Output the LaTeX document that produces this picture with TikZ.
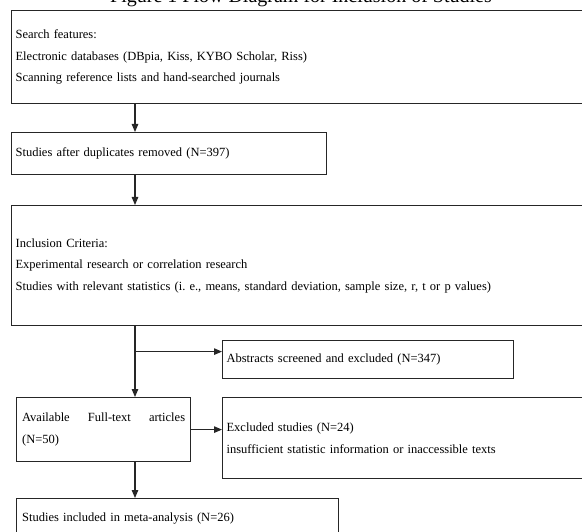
\documentclass[tikz,border=0pt]{standalone}
\usepackage{fontspec}
\setmainfont{Liberation Serif}
\usetikzlibrary{positioning,arrows.meta}

\newcommand\boxfont{\fontsize{12.5}{21.5}\selectfont\frenchspacing
  \spaceskip=5.6pt plus 1pt minus 0.5pt\relax}

\begin{document}
\begin{tikzpicture}[
    x=1pt, y=-1pt,
    box/.style={draw=black!85, line width=1.2pt, anchor=north west, align=left,
      inner xsep=4pt, font=\boxfont},
    arr/.style={-{Triangle[length=8pt,width=6.5pt]}, line width=1.2pt, draw=black!85}
  ]
    \useasboundingbox (0,0) rectangle (582,532);
    \begin{scope}
    \clip (0,0) rectangle (582,532);
    % caption, cut off by the page edge
    \node[font=\fontsize{20}{24}\selectfont, anchor=base] (title) at (301,3)
      {Figure 1 Flow Diagram for Inclusion of Studies};
    \node[box, text width=571pt, minimum height=93pt] (search) at (11,10)
      {Search features:\\Electronic databases (DBpia, Kiss, KYBO Scholar, Riss)\\Scanning reference lists and hand-searched journals};
    \node[box, text width=307pt, minimum height=42pt] (dup) at (11,132)
      {Studies after duplicates removed (N=397)};
    \node[box, text width=571pt, minimum height=120pt] (incl) at (11,205)
      {Inclusion Criteria:\\Experimental research or correlation research\\Studies with relevant statistics (i. e., means, standard deviation, sample size, r, t or p values)};
    \node[box, text width=283pt, minimum height=38pt] (abstr) at (222,340)
      {Abstracts screened and excluded (N=347)};
    \node[box, inner xsep=5.5pt, text width=163pt, minimum height=64pt] (avail) at (16,397)
      {Available\hfill Full-text\hfill articles\\(N=50)};
    \node[box, text width=360pt, minimum height=81pt] (excl) at (222,397)
      {Excluded studies (N=24)\\insufficient statistic information or inaccessible texts};
    \node[box, inner xsep=5.5pt, text width=311pt, minimum height=40pt] (meta) at (16,498)
      {Studies included in meta-analysis (N=26)};
    % arrows
    \coordinate (spine) at (135,0);
    \coordinate (branch) at ([yshift=8pt]abstr.west);
    \draw[arr] (spine |- search.south) -- (spine |- dup.north);
    \draw[arr] (spine |- dup.south) -- (spine |- incl.north);
    \draw[arr] (spine |- incl.south) -- (spine |- avail.north);
    \draw[arr] (spine |- branch) -- (branch);
    \draw[arr] (avail.east) -- (avail.east -| excl.west);
    \draw[arr] (spine |- avail.south) -- (spine |- meta.north);
    \end{scope}
  \end{tikzpicture}
\end{document}
